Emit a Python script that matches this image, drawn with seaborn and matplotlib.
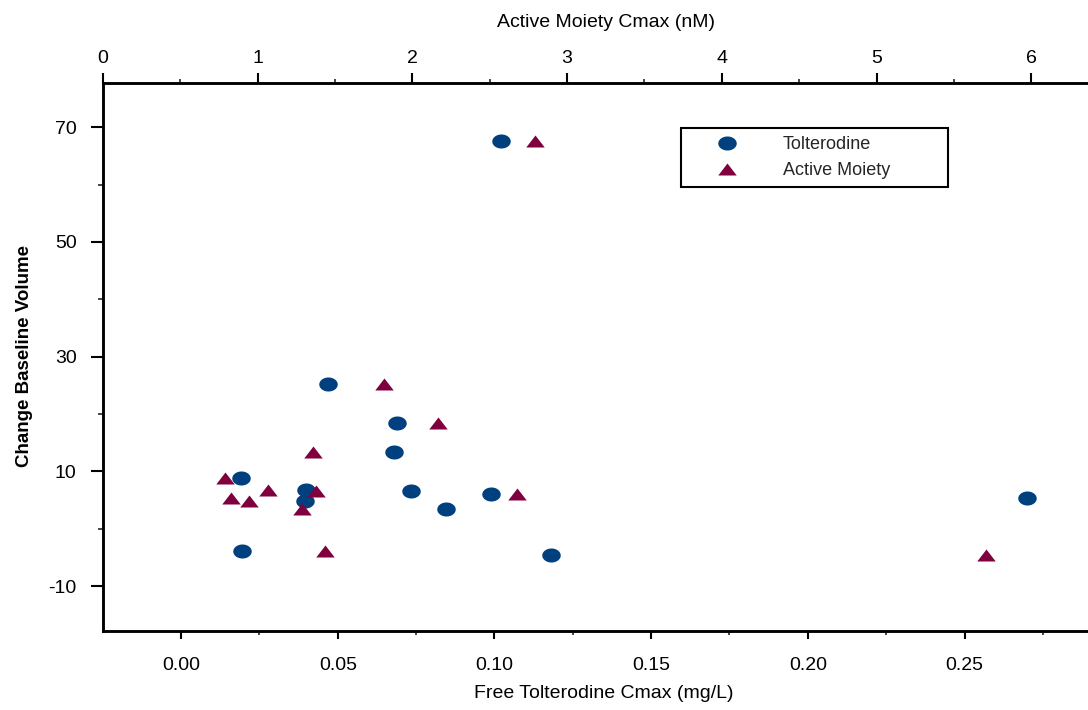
import numpy as np
import pandas as pd
import matplotlib
matplotlib.use("Agg")
import matplotlib.pyplot as plt
from matplotlib.lines import Line2D
from matplotlib.ticker import MultipleLocator
import seaborn as sns

# Change from baseline volume per subject, with Cmax of both analytes
change_baseline = [67.6, 25.3, 18.5, 13.4, 8.8, 6.8, 6.6, 6.0, 5.4, 4.9, 3.4, -3.9, -4.5]
tolterodine_cmax = [0.102, 0.047, 0.069, 0.068, 0.019, 0.040, 0.0735, 0.099,
                    0.270, 0.0396, 0.0845, 0.0194, 0.118]
active_moiety_cmax = [2.79, 1.814, 2.166, 1.36, 0.787, 1.069, 1.377, 2.676,
                      0.825, 0.946, 1.288, 1.437, 5.706]

series_names = ["Tolterodine", "Active Moiety"]
bottom_ticks = [0.00, 0.05, 0.10, 0.15, 0.20, 0.25]
top_ticks = [0, 1, 2, 3, 4, 5, 6]
y_ticks = [70, 50, 30, 10, -10]

df = pd.DataFrame({
    "change": change_baseline,
    "tolt": tolterodine_cmax,
    "am": active_moiety_cmax,
})

BLUE = "#00407f"
MAROON = "#80003f"

# squashed ellipse and wide triangle markers
t = np.linspace(0, 2 * np.pi, 60)
ellipse = np.column_stack([np.cos(t), 0.76 * np.sin(t)])
triangle = np.array([[-1.0, -0.65], [1.0, -0.65], [0.0, 0.65], [-1.0, -0.65]])
msize = 13.3

sns.set_theme(style="ticks")
plt.rcParams["font.family"] = ["Liberation Sans", "DejaVu Sans"]

fig = plt.figure(figsize=(10.88, 7.10), dpi=100)
ax = fig.add_axes([0.0947, 0.1113, 0.9053, 0.7718])
ax2 = ax.twiny()

sns.scatterplot(data=df, x="tolt", y="change", ax=ax, marker=ellipse,
                s=msize ** 2, color=BLUE, linewidth=0, legend=False, zorder=3)
sns.scatterplot(data=df, x="am", y="change", ax=ax2, marker=triangle,
                s=msize ** 2, color=MAROON, linewidth=0, legend=False, zorder=3)

ax.set_xlim(-0.0249, 0.2894)
ax.set_ylim(-17.8, 77.7)
ax2.set_xlim(0, 6.367)

ax.set_xticks(bottom_ticks)
ax.set_xticklabels([f"{v:.2f}" for v in bottom_ticks])
ax.xaxis.set_minor_locator(MultipleLocator(0.025))
ax.set_yticks(y_ticks)
ax.set_yticklabels([str(v) for v in y_ticks])
ax.yaxis.set_minor_locator(MultipleLocator(10))
ax2.set_xticks(top_ticks)
ax2.set_xticklabels([str(v) for v in top_ticks])
ax2.xaxis.set_minor_locator(MultipleLocator(0.5))

for a in (ax, ax2):
    for side in ("left", "bottom", "top"):
        a.spines[side].set_color("black")
        a.spines[side].set_linewidth(1.8)
    a.spines["right"].set_visible(False)
ax2.patch.set_visible(False)

ax.tick_params(axis="x", which="major", direction="out", length=5.8, width=1.5,
               pad=13, labelsize=14, colors="black")
ax.tick_params(axis="x", which="minor", direction="out", length=3.0, width=1.2)
ax.tick_params(axis="y", which="major", direction="out", length=8.5, width=1.5,
               pad=10.5, labelsize=14, colors="black")
ax.tick_params(axis="y", which="minor", direction="out", length=3.6, width=1.2)
ax2.tick_params(axis="x", which="major", direction="out", length=7.2, width=1.5,
                pad=4.5, labelsize=14, colors="black")
ax2.tick_params(axis="x", which="minor", direction="out", length=3.0, width=1.2)

ax.set_xlabel("Free Tolterodine Cmax (mg/L)", fontsize=14, color="black")
ax.xaxis.set_label_coords(0.5086, -0.099)
ax2.set_xlabel("Active Moiety Cmax (nM)", fontsize=14, color="black")
ax2.xaxis.set_label_coords(0.511, 1.103)
ax.set_ylabel("Change Baseline Volume", fontsize=13.5, fontweight="bold",
              color="black")
ax.yaxis.set_label_coords(-0.071, 0.502)

handles = [
    Line2D([], [], linestyle="none", marker=ellipse, markersize=msize,
           markerfacecolor=BLUE, markeredgewidth=0),
    Line2D([], [], linestyle="none", marker=triangle, markersize=msize,
           markerfacecolor=MAROON, markeredgewidth=0),
]
leg = ax2.legend(handles, series_names, loc="upper left",
                 bbox_to_anchor=(0.5868, 0.8139, 0.2711, 0.104),
                 bbox_transform=ax.transAxes, mode="expand", borderaxespad=0,
                 fontsize=13, frameon=True, fancybox=False, framealpha=1,
                 borderpad=0.45, handlelength=4.2, handletextpad=1.0,
                 labelspacing=0.5)
leg.get_frame().set_edgecolor("black")
leg.get_frame().set_linewidth(1.5)
leg.set_zorder(10)

fig.savefig("out.png", dpi=100)
